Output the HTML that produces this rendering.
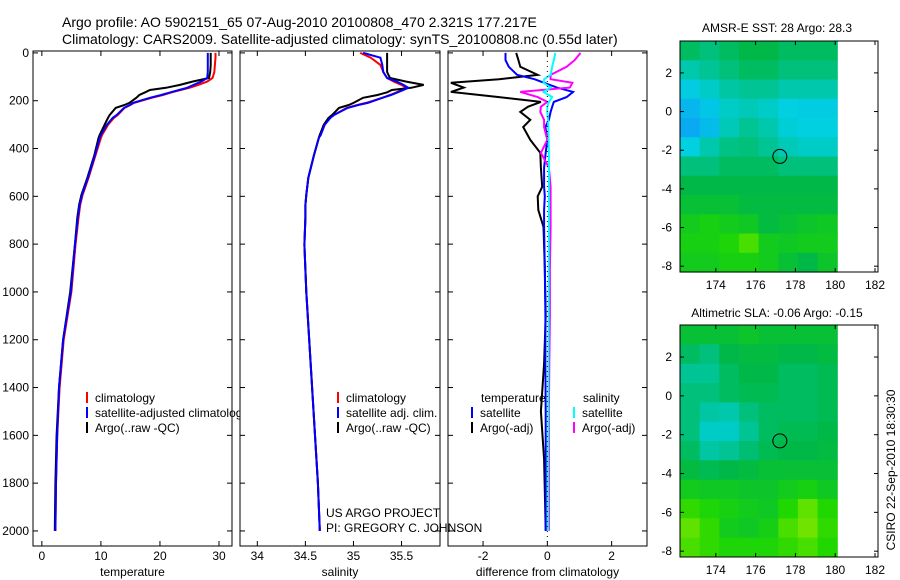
<!DOCTYPE html>
<html><head><meta charset="utf-8"><style>
body{margin:0;background:#fff;}
svg{display:block;font-family:"Liberation Sans",sans-serif;}
text{font-size:12px;fill:#000;}
</style></head><body>
<svg id="fig" width="900" height="580" viewBox="0 0 900 580">
<text x="62" y="27" style="font-size:14px">Argo profile: AO 5902151_65 07-Aug-2010 20100808_470 2.321S 177.217E</text>
<text x="62" y="44" style="font-size:14px">Climatology: CARS2009. Satellite-adjusted climatology: synTS_20100808.nc (0.55d later)</text>
<g id="p1"></g>
<g id="p2"></g>
<g id="p3"></g>
<g id="m1"></g>
<g id="m2"></g>
<text x="326" y="517">US ARGO PROJECT</text>
<text x="326" y="532">PI: GREGORY C. JOHNSON</text>
<text x="777" y="32" text-anchor="middle">AMSR-E SST: 28 Argo: 28.3</text>
<text x="777" y="317" text-anchor="middle">Altimetric SLA: -0.06 Argo: -0.15</text>
<text transform="translate(895,470) rotate(-90)" text-anchor="middle">CSIRO 22-Sep-2010 18:30:30</text>
</svg>
<script>
const depths=[0,20,50,80,105,120,134,146,155,165,176,188,209,218,230,259,272,301,343,356,427,523,594,636,690,803,1000,1200,1400,1600,1800,2000];
const tempClim=[29.4,29.4,29.3,29.2,28.9,28.0,26.5,25.0,23.5,22.0,20.5,18.6,15.6,15.0,14.0,12.9,12.2,11.2,10.2,10.0,9.1,7.9,6.9,6.5,6.2,5.7,5.0,3.7,3.0,2.6,2.4,2.3];
const tempSat=[28.1,28.1,28.1,28.1,28.0,27.0,25.7,24.6,23.2,21.8,20.2,18.3,15.4,14.9,13.9,12.7,12.0,11.0,10.0,9.8,9.0,7.8,6.8,6.4,6.1,5.6,4.9,3.6,2.9,2.6,2.4,2.3];
const tempArgo=[28.6,28.6,28.6,28.5,28.3,25.5,23.4,21.0,18.3,17.5,16.5,16.0,14.8,14.0,12.5,11.5,11.2,10.6,9.8,9.6,8.9,7.7,6.7,6.3,6.0,5.6,4.8,3.6,2.9,2.5,2.3,2.2];
const salClim=[35.07,35.18,35.28,35.31,35.35,35.42,35.5,35.55,35.5,35.45,35.38,35.3,35.13,35.04,34.93,34.8,34.75,34.7,34.65,34.64,34.59,34.53,34.51,34.5,34.5,34.49,34.51,34.54,34.57,34.6,34.63,34.65];
const salSat=[35.1,35.28,35.3,35.31,35.35,35.45,35.52,35.57,35.52,35.46,35.39,35.3,35.15,35.05,34.94,34.8,34.76,34.7,34.66,34.64,34.59,34.53,34.51,34.5,34.5,34.49,34.51,34.54,34.57,34.6,34.63,34.65];
const salArgo=[35.35,35.35,35.35,35.35,35.38,35.55,35.73,35.6,35.4,35.35,35.25,35.1,35.0,34.95,34.85,34.78,34.74,34.69,34.65,34.64,34.59,34.53,34.51,34.5,34.5,34.49,34.51,34.54,34.57,34.6,34.63,34.65];
const diffDepths=[0,30,58,92,110,125,145,163,185,205,225,247,280,310,364,418,480,560,600,657,728,900,1100,1300,1500,1700,2000];
const dTempArgo=[-0.97,-0.9,-0.84,-0.3,-1.5,-3.0,-2.6,-3.0,-1.5,-0.2,-0.6,-0.84,-0.53,-0.75,-0.53,-0.22,-0.2,-0.16,-0.3,-0.28,-0.12,-0.08,-0.05,-0.1,-0.2,-0.1,-0.05];
const dTempSat=[-1.3,-1.3,-1.2,-0.94,-0.4,-0.1,0.3,0.8,0.6,0.2,0.15,0.1,0.05,-0.06,0,-0.05,-0.1,-0.1,-0.08,-0.1,-0.1,-0.08,-0.06,-0.06,-0.05,-0.05,-0.05];
const dSalArgo=[1.03,0.85,0.6,0.1,0.1,0.78,0.7,-0.84,-0.3,0,-0.2,-0.22,-0.1,-0.1,0,-0.2,0.05,0.1,0.1,0.1,0.1,0.08,0.08,0.06,0.05,0.05,0.05];
const dSalSat=[0.25,0.2,0.15,0.1,-0.1,-0.12,0.1,-0.12,0.15,0.05,0,0,0.02,0.03,0.04,0.05,0.05,0.05,0.05,0.05,0.05,0.04,0.04,0.03,0.03,0.02,0.02];
const tempTicks=[0,10,20,30];
const salTicks=[34,34.5,35,35.5];
const diffTicks=[-2,0,2];
const depthTicks=[0,200,400,600,800,1000,1200,1400,1600,1800,2000];
const lonTicks=[174,176,178,180,182];
const latTicks=[2,0,-2,-4,-6,-8];
const sstGrid=[
[0.55,0.5,0.55,0.6,0.6,0.55,0.55,0.55],
[0.4,0.45,0.5,0.55,0.55,0.5,0.5,0.5],
[0.28,0.35,0.42,0.45,0.45,0.4,0.4,0.4],
[0.18,0.25,0.35,0.38,0.35,0.3,0.28,0.28],
[0.12,0.2,0.38,0.45,0.4,0.32,0.3,0.3],
[0.3,0.4,0.48,0.5,0.45,0.38,0.35,0.35],
[0.5,0.5,0.55,0.55,0.55,0.5,0.5,0.5],
[0.6,0.6,0.6,0.6,0.6,0.6,0.6,0.6],
[0.65,0.65,0.65,0.62,0.62,0.62,0.62,0.62],
[0.72,0.75,0.72,0.7,0.62,0.65,0.68,0.7],
[0.75,0.75,0.78,0.85,0.72,0.7,0.72,0.72],
[0.72,0.72,0.75,0.75,0.72,0.65,0.6,0.68]];
const slaGrid=[
[0.65,0.65,0.65,0.68,0.65,0.65,0.65,0.65],
[0.55,0.5,0.6,0.62,0.62,0.6,0.6,0.62],
[0.45,0.45,0.55,0.6,0.6,0.55,0.55,0.58],
[0.5,0.5,0.55,0.58,0.58,0.55,0.55,0.58],
[0.5,0.42,0.4,0.5,0.55,0.55,0.55,0.58],
[0.5,0.35,0.35,0.45,0.55,0.58,0.58,0.6],
[0.55,0.42,0.45,0.52,0.58,0.6,0.6,0.62],
[0.62,0.58,0.6,0.62,0.65,0.65,0.65,0.65],
[0.72,0.7,0.7,0.68,0.68,0.72,0.75,0.7],
[0.82,0.78,0.75,0.72,0.7,0.8,0.88,0.8],
[0.88,0.82,0.72,0.7,0.74,0.85,0.9,0.82],
[0.85,0.82,0.78,0.78,0.78,0.82,0.85,0.8]];

const NS='http://www.w3.org/2000/svg';
function mk(parent,tag,attrs){const e=document.createElementNS(NS,tag);for(const k in attrs)e.setAttribute(k,attrs[k]);parent.appendChild(e);return e;}
const yTop=51,yBot=546,dMin=-8,dMax=2063;
function yD(d){return yTop+(d-dMin)/(dMax-dMin)*(yBot-yTop);}

function panel(g,x0,x1,vMin,vMax,ticks,showDepthLabels,label,series){
  const xs=v=>x0+(v-vMin)/(vMax-vMin)*(x1-x0);
  const bg=mk(g,'rect',{x:x0,y:yTop,width:x1-x0,height:yBot-yTop,fill:'#fff',stroke:'none'});
  
  
  ticks.forEach(t=>{const x=xs(t);
    mk(g,'line',{x1:x,x2:x,y1:yBot,y2:yBot-5,stroke:'#000'});
    mk(g,'line',{x1:x,x2:x,y1:yTop,y2:yTop+5,stroke:'#000'});
    const tl=mk(g,'text',{x:x,y:yBot+14,'text-anchor':'middle'});tl.textContent=t;
    
    
  });
  depthTicks.forEach(d=>{const y=yD(d);
    mk(g,'line',{x1:x0,x2:x0+5,y1:y,y2:y,stroke:'#000'});
    mk(g,'line',{x1:x1,x2:x1-5,y1:y,y2:y,stroke:'#000'});
    if(showDepthLabels){const tl=mk(g,'text',{x:x0-4,y:y+4,'text-anchor':'end'});tl.textContent=d;
      
      }
  });
  series.forEach(s=>{
    const pts=s.v.map((v,i)=>xs(v).toFixed(1)+','+yD(s.d[i]).toFixed(1)).join(' ');
    const pl=mk(g,'polyline',{points:pts,fill:'none',stroke:s.c,'stroke-width':2});
    
    
  });
  mk(g,'rect',{x:x0,y:yTop,width:x1-x0,height:yBot-yTop,fill:'none',stroke:'#000'});
  const xl=mk(g,'text',{x:(x0+x1)/2,y:576,'text-anchor':'middle'});xl.textContent=label;
  
  
  return xs;
}
function legend(g,x,y,c,txt){
  mk(g,'line',{x1:x,x2:x,y1:y-10,y2:y+1,stroke:c,'stroke-width':2});
  const t=mk(g,'text',{x:x+8,y:y});t.textContent=txt;
  
  
}
const p1=document.getElementById('p1');
panel(p1,33,232,-1.5,32.2,tempTicks,true,'temperature',[
 {v:tempClim,d:depths,c:'#f00',n:'temp-climatology-line'},
 {v:tempArgo,d:depths,c:'#000',n:'temp-argo-line'},
 {v:tempSat,d:depths,c:'#00f',n:'temp-satellite-line'}]);
legend(p1,87,402,'#f00','climatology');
legend(p1,87,417,'#00f','satellite-adjusted climatology');
legend(p1,87,432,'#000','Argo(..raw -QC)');
const p2=document.getElementById('p2');
panel(p2,240,440,33.82,35.9,salTicks,false,'salinity',[
 {v:salClim,d:depths,c:'#f00',n:'sal-climatology-line'},
 {v:salArgo,d:depths,c:'#000',n:'sal-argo-line'},
 {v:salSat,d:depths,c:'#00f',n:'sal-satellite-line'}]);
legend(p2,338,402,'#f00','climatology');
legend(p2,338,417,'#00f','satellite adj. clim.');
legend(p2,338,432,'#000','Argo(..raw -QC)');
const p3=document.getElementById('p3');
const xs3=panel(p3,448,647,-3.09,3.1,diffTicks,false,'difference from climatology',[
 {v:dTempArgo,d:diffDepths,c:'#000',n:'temp-diff-argo-line'},
 {v:dTempSat,d:diffDepths,c:'#00f',n:'temp-diff-satellite-line'},
 {v:dSalArgo,d:diffDepths,c:'#f0f',n:'sal-diff-argo-line'},
 {v:dSalSat,d:diffDepths,c:'#0ff',n:'sal-diff-satellite-line'}]);
mk(p3,'line',{x1:xs3(0),x2:xs3(0),y1:yTop,y2:yBot,stroke:'#000','stroke-dasharray':'1,4'});
const th=mk(p3,'text',{x:481,y:402});th.textContent='temperature';


const sh=mk(p3,'text',{x:583,y:402});sh.textContent='salinity';


legend(p3,472,417,'#00f','satellite');
legend(p3,472,432,'#000','Argo(-adj)');
legend(p3,574,417,'#0ff','satellite');
legend(p3,574,432,'#f0f','Argo(-adj)');

const stops=[[0,[16,144,255]],[0.3,[0,208,224]],[0.6,[0,184,72]],[0.8,[32,216,0]],[1,[192,240,0]]];
function col(v){for(let i=1;i<stops.length;i++){if(v<=stops[i][0]){const a=stops[i-1],b=stops[i],t=(v-a[0])/(b[0]-a[0]);return 'rgb('+a[1].map((c,j)=>Math.round(c+(b[1][j]-c)*t)).join(',')+')';}}return 'rgb(192,240,0)';}
function map(g,top,bot,grid){
  const x0=680,x1=878,lonMin=172.2,lonMax=182.15,latMax=3.65,latMin=-8.3;
  const xs=l=>x0+(l-lonMin)/(lonMax-lonMin)*(x1-x0);
  const ys=l=>top+(latMax-l)/(latMax-latMin)*(bot-top);
  const nr=grid.length,nc=grid[0].length,lonE=180.1;
  grid.forEach((row,r)=>row.forEach((v,c)=>{
    const la0=latMax-r*(latMax-latMin)/nr,la1=latMax-(r+1)*(latMax-latMin)/nr;
    const lo0=lonMin+c*(lonE-lonMin)/nc,lo1=lonMin+(c+1)*(lonE-lonMin)/nc;
    const cell=mk(g,'rect',{x:xs(lo0).toFixed(1),y:ys(la0).toFixed(1),width:(xs(lo1)-xs(lo0)+0.5).toFixed(1),height:(ys(la1)-ys(la0)+0.5).toFixed(1),fill:col(v)});
    
    
  }));
  lonTicks.forEach(l=>{const x=xs(l);
    mk(g,'line',{x1:x,x2:x,y1:bot,y2:bot-4,stroke:'#000'});
    mk(g,'line',{x1:x,x2:x,y1:top,y2:top+4,stroke:'#000'});
    const t=mk(g,'text',{x:x,y:bot+17,'text-anchor':'middle'});t.textContent=l;
    
    });
  latTicks.forEach(l=>{const y=ys(l);
    mk(g,'line',{x1:x0,x2:x0+4,y1:y,y2:y,stroke:'#000'});
    mk(g,'line',{x1:x1,x2:x1-4,y1:y,y2:y,stroke:'#000'});
    const t=mk(g,'text',{x:x0-8,y:y+4,'text-anchor':'end'});t.textContent=l;
    
    });
  mk(g,'rect',{x:x0,y:top,width:x1-x0,height:bot-top,fill:'none',stroke:'#000'});
  const c=mk(g,'circle',{cx:xs(177.217),cy:ys(-2.321),r:7,fill:'none',stroke:'#000'});
  
  
}
map(document.getElementById('m1'),41,272,sstGrid);
map(document.getElementById('m2'),325,557,slaGrid);
</script>
</body></html>
